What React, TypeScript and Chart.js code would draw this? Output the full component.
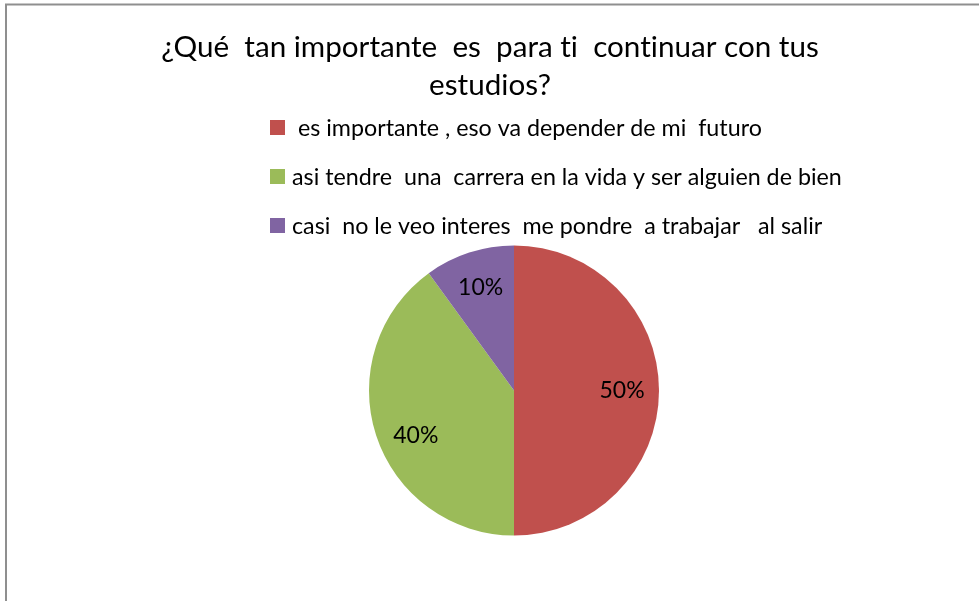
import React, { useEffect, useRef } from "react";
import { Chart, registerables } from "chart.js";

Chart.register(...registerables);

const titleLines = ["¿Qué  tan importante  es  para ti  continuar con tus", "estudios?"];
const categories = [
  " es importante , eso va depender de mi  futuro",
  "asi tendre  una  carrera en la vida y ser alguien de bien",
  "casi  no le veo interes  me pondre  a trabajar   al salir",
];
const values = [50, 40, 10];
const valueLabels = ["50%", "40%", "10%"];
const colors = ["#C0504D", "#9BBB59", "#8064A2"];

// label placement style (fraction of radius, angular nudge in degrees)
const LABEL_RADIUS = 0.745;
const LABEL_ANGLE_NUDGE = [0, -6.6, 0];

const FAMILY = "Lato, 'Open Sans', sans-serif";

function fitSize(ctx: CanvasRenderingContext2D, text: string, target: number) {
  ctx.font = `100px ${FAMILY}`;
  const w = ctx.measureText(text).width;
  return (100 * target) / w;
}

const decorPlugin = {
  id: "decor",
  beforeDraw(chart: any) {
    const ctx = chart.ctx as CanvasRenderingContext2D;
    ctx.save();
    ctx.fillStyle = "#ffffff";
    ctx.fillRect(0, 0, chart.width, chart.height);
    ctx.strokeStyle = "#8f8f8f";
    ctx.lineWidth = 2;
    ctx.beginPath();
    ctx.moveTo(6, chart.height);
    ctx.lineTo(6, 4.5);
    ctx.lineTo(chart.width, 4.5);
    ctx.stroke();
    ctx.restore();
  },
  afterDraw(chart: any) {
    const ctx = chart.ctx as CanvasRenderingContext2D;
    ctx.save();
    try {
      (ctx as any).textRendering = "optimizeSpeed";
    } catch (e) {}
    ctx.fillStyle = "#000000";
    // title
    const tSize = fitSize(ctx, titleLines[0], 658);
    ctx.font = `${tSize}px ${FAMILY}`;
    ctx.textAlign = "center";
    ctx.textBaseline = "alphabetic";
    const tBase = [57, 95];
    titleLines.forEach((t, i) => ctx.fillText(t, 490, tBase[i]));

    // legend
    const lSize = fitSize(ctx, categories[1], 550);
    ctx.font = `${lSize}px ${FAMILY}`;
    ctx.textAlign = "left";
    const lBase = [136, 185, 234];
    categories.forEach((c, i) => {
      ctx.fillStyle = colors[i];
      ctx.fillRect(270, lBase[i] - 16, 15, 15);
      ctx.fillStyle = "#000000";
      ctx.fillText(c, 292, lBase[i]);
    });

    // data labels
    ctx.font = `23px ${FAMILY}`;
    ctx.textAlign = "center";
    ctx.textBaseline = "middle";
    const meta = chart.getDatasetMeta(0);
    meta.data.forEach((arc: any, i: number) => {
      const p = arc.getProps(["x", "y", "startAngle", "endAngle", "outerRadius"], true);
      const mid = (p.startAngle + p.endAngle) / 2 + (LABEL_ANGLE_NUDGE[i] * Math.PI) / 180;
      const r = p.outerRadius * LABEL_RADIUS;
      ctx.fillText(valueLabels[i], p.x + Math.cos(mid) * r, p.y + Math.sin(mid) * r);
    });
    ctx.restore();
  },
};

export default function App() {
  const ref = useRef<HTMLCanvasElement | null>(null);
  useEffect(() => {
    let chart: Chart | null = null;
    let cancelled = false;
    const make = () => {
      if (cancelled || !ref.current) return;
      chart = new Chart(ref.current, {
        type: "pie",
        data: {
          labels: categories,
          datasets: [
            {
              data: values,
              backgroundColor: colors,
              borderWidth: 0,
            },
          ],
        },
        options: {
          responsive: false,
          animation: false,
          layout: { padding: { top: 245.5, bottom: 65.5, left: 369, right: 320 } },
          plugins: {
            legend: { display: false },
            title: { display: false },
            tooltip: { enabled: false },
          },
        },
        plugins: [decorPlugin],
      });
    };
    const fonts = (document as any).fonts;
    if (fonts && fonts.load) {
      fonts.load(`20px Lato`).then(make, make);
    } else make();
    return () => {
      cancelled = true;
      if (chart) chart.destroy();
    };
  }, []);
  return (
    <canvas
      ref={ref}
      width={979}
      height={601}
      style={{ position: "absolute", left: 0, top: 0, width: 979, height: 601, display: "block" }}
    />
  );
}
